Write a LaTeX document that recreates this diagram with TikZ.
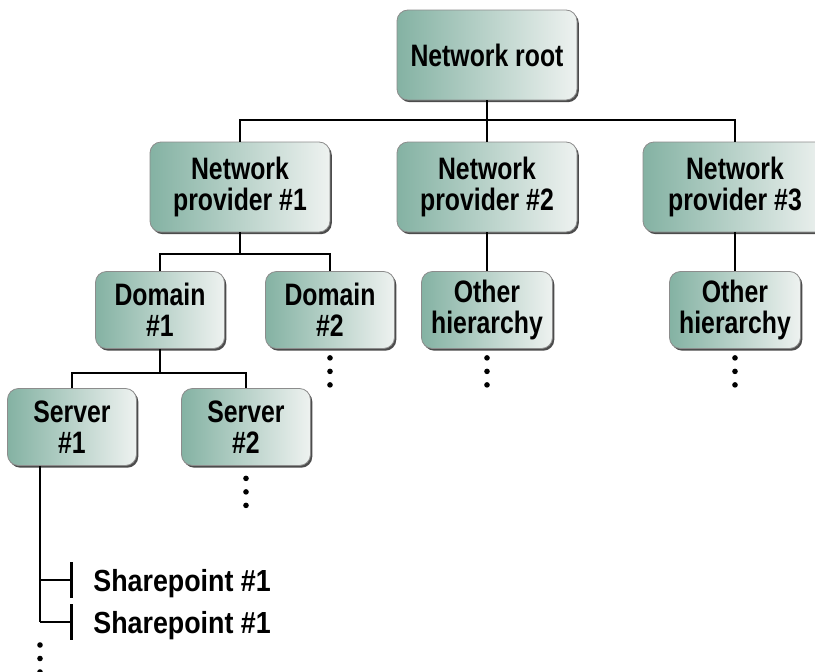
\documentclass[tikz,border=0pt]{standalone}
\usepackage{fontspec}
\newfontfamily\diagfont{Liberation Sans}[FakeStretch=0.8]
\newfontfamily\leaffont{Liberation Sans}[FakeStretch=0.88]
\usetikzlibrary{calc}
\usetikzlibrary{shadows}
\usetikzlibrary{arrows.meta}
\usetikzlibrary{positioning}

\definecolor{boxdark}{RGB}{132,178,163}
\definecolor{boxlight}{RGB}{238,242,240}

\begin{document}
\begin{tikzpicture}[x=1pt,y=-1pt,line width=2.7pt,
  main node/.style={rounded corners=11pt,left color=boxdark,right color=boxlight,
  draw=black!45,line width=0.8pt,align=center,inner sep=0pt,
  font=\diagfont\bfseries\fontsize{31}{31}\selectfont,
  minimum width=180pt,minimum height=90pt,
  drop shadow={shadow xshift=1.8pt,shadow yshift=-2.2pt,fill=black!70,opacity=1}},
  small node/.style={main node,minimum width=129pt,minimum height=77pt},
  leaf node/.style={anchor=west,inner xsep=19pt,inner ysep=0pt,text depth=0pt,
  font=\leaffont\bfseries\fontsize{30.5}{30}\selectfont}]
  \useasboundingbox (0,0) rectangle (815,672);

  \node[main node] (NR) at (487,55) {Network root};
  \node[main node] (NP2) [below of=NR,node distance=132pt] {Network\\provider \#2};
  \node[main node] (NP1) [left of=NP2,node distance=247pt] {Network\\provider \#1};
  \node[main node,minimum width=184pt] (NP3) [right of=NP2,node distance=248pt] {Network\\provider \#3};

  \node[small node] (D1) [below of=NP1,node distance=123pt,xshift=-80pt] {Domain\\\#1};
  \node[small node] (D2) [right of=D1,node distance=170pt] {Domain\\\#2};
  \node[small node,minimum width=131pt] (OH2) [below of=NP2,node distance=123pt] {Other\\hierarchy};
  \node[small node,minimum width=131pt] (OH3) [below of=NP3,node distance=123pt] {Other\\hierarchy};

  \node[small node] (S1) [below of=D1,node distance=117pt,xshift=-88pt] {Server\\\#1};
  \node[small node] (S2) [right of=S1,node distance=174pt] {Server\\\#2};

  \node[leaf node] (SP1) at (73,580) {Sharepoint \#1};
  \node[leaf node] (SP2) at (73,622) {Sharepoint \#1};

  % tree connectors
  \draw (NR) -- (NP2);
  \draw (NP1) |- (NR |- 0,120) -| (NP3);
  \draw (NP2) -- (OH2);
  \draw (NP3) -- (OH3);
  \draw (NP1) -- (NP1 |- 0,254);
  \draw (D1) |- (NP1 |- 0,254) -| (D2);
  \draw (D1) -- (D1 |- 0,373);
  \draw (S1) |- (D1 |- 0,373) -| (S2);

  % share points hang off the server trunk
  \coordinate (T0) at ([xshift=-32pt]S1.south);
  \coordinate (T2) at (T0 |- SP2);
  \draw (T0) -- (T2);
  \draw[-{Bar[width=36pt]}] (T0 |- SP1) -- (SP1);
  \draw[-{Bar[width=36pt]}] (T2) -- (SP2);

  % more below
  \foreach \n in {D2,OH2,OH3}
    \foreach \k in {0,1,2}
      \fill ($(\n.south)+(0,9+13.5*\k)$) circle (2.8pt);
  \foreach \k in {0,1,2}
    \fill ($(S2.south)+(0,12.5+13.5*\k)$) circle (2.8pt);
  \foreach \k in {0,1,2}
    \fill ($(T2)+(0,23+13.5*\k)$) circle (2.8pt);
\end{tikzpicture}
\end{document}
